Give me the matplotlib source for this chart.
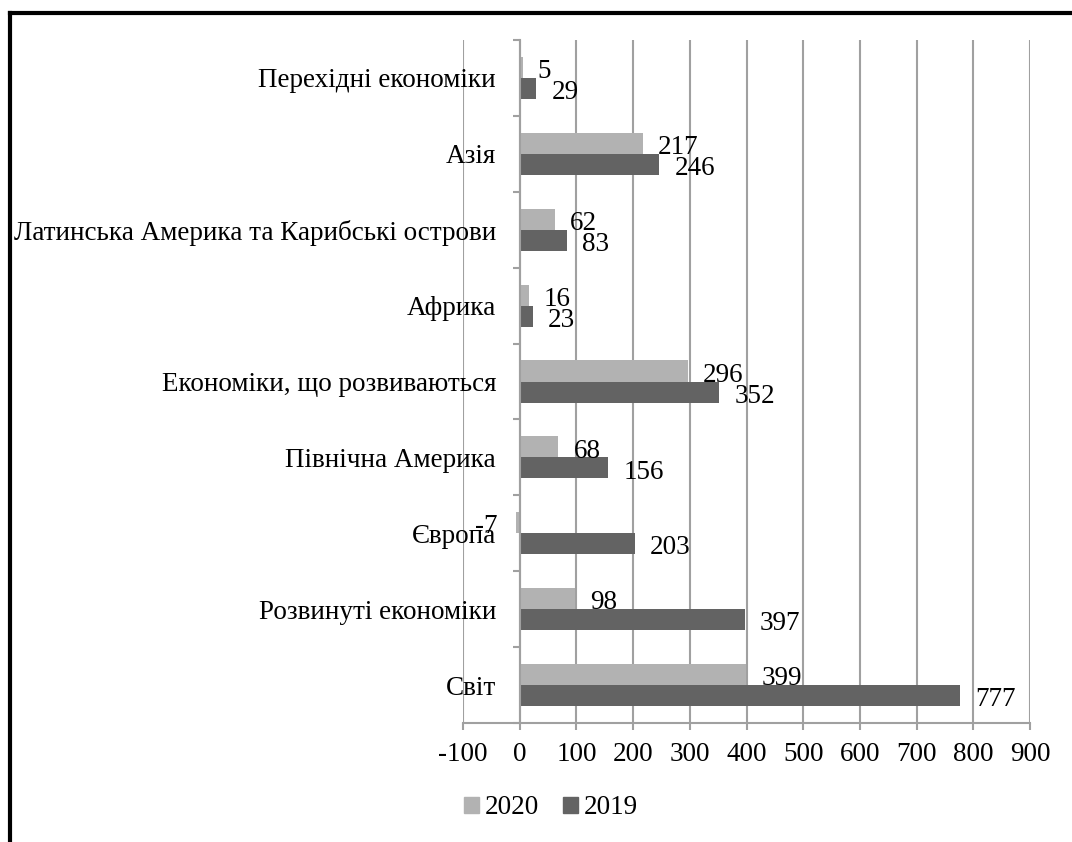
import numpy as np
import matplotlib.pyplot as plt
from matplotlib.lines import Line2D
from matplotlib.patches import Patch

categories = [
    "Світ",
    "Розвинуті економіки",
    "Європа",
    "Північна Америка",
    "Економіки, що розвиваються",
    "Африка",
    "Латинська Америка та Карибські острови",
    "Азія",
    "Перехідні економіки",
]
values_2020 = [399, 98, -7, 68, 296, 16, 62, 217, 5]
values_2019 = [777, 397, 203, 156, 352, 23, 83, 246, 29]
x_ticks = list(range(-100, 1000, 100))

LIGHT = "#b2b2b2"
DARK = "#636363"
GRID = "#a0a0a0"

plt.rcParams["font.family"] = ["Liberation Serif", "DejaVu Serif"]
plt.rcParams["font.size"] = 19.5

fig = plt.figure(figsize=(10.72, 8.42), dpi=100)
ax = fig.add_axes([463 / 1072, 1 - 723 / 842, (1030 - 463) / 1072, (723 - 40) / 842])

y = np.arange(len(categories))
h = 0.277
ax.barh(y + h / 2, values_2020, height=h, color=LIGHT, zorder=2)
ax.barh(y - h / 2, values_2019, height=h, color=DARK, zorder=2)

# value labels, outside end of each bar
for yy, v20, v19 in zip(y, values_2020, values_2019):
    for off, v in ((h / 2, v20), (-h / 2, v19)):
        dx = 11 if v >= 0 else -13
        ax.annotate(str(v), xy=(v, yy + off), xytext=(dx, -3),
                    textcoords="offset points", va="center",
                    ha="left" if v >= 0 else "right", zorder=3)

ax.set_xlim(-100, 900)
ax.set_ylim(-0.5, len(categories) - 0.5)
ax.set_xticks(x_ticks)
ax.set_xticklabels([str(t) for t in x_ticks])
ax.grid(axis="x", color=GRID, lw=1.5, zorder=0)

# category axis sits at zero, ticks between categories
ax.spines["left"].set_position(("data", 0))
ax.spines["left"].set_color(GRID)
ax.spines["left"].set_linewidth(1.5)
ax.spines["bottom"].set_color(GRID)
ax.spines["bottom"].set_linewidth(1.5)
ax.spines["top"].set_visible(False)
ax.spines["right"].set_visible(False)

ax.set_yticks(np.arange(-0.5, len(categories), 1))
ax.set_yticklabels([])
ax.set_yticks(y, minor=True)
ax.set_yticklabels(categories, minor=True)
ax.tick_params(axis="y", which="major", length=5, width=1.5, color=GRID)
ax.tick_params(axis="y", which="minor", length=0, pad=17)
ax.tick_params(axis="x", length=5, width=1.5, color=GRID, pad=9)

handles = [Patch(color=LIGHT, label="2020"), Patch(color=DARK, label="2019")]
fig.legend(handles=handles, loc="center", bbox_to_anchor=(551 / 1072, 1 - 808 / 842),
           ncol=2, frameon=False, handlelength=0.55, handleheight=0.55,
           handletextpad=0.2, columnspacing=0.9)

# frame lines (left and top) of the original chart box
fig.add_artist(Line2D([10 / 1072, 10 / 1072], [0, 1 - 13 / 842], transform=fig.transFigure,
                      color="black", lw=3, solid_capstyle="projecting"))
fig.add_artist(Line2D([10 / 1072, 1], [1 - 13 / 842, 1 - 13 / 842], transform=fig.transFigure,
                      color="black", lw=3, solid_capstyle="projecting"))

fig.savefig("out.png", dpi=100)
